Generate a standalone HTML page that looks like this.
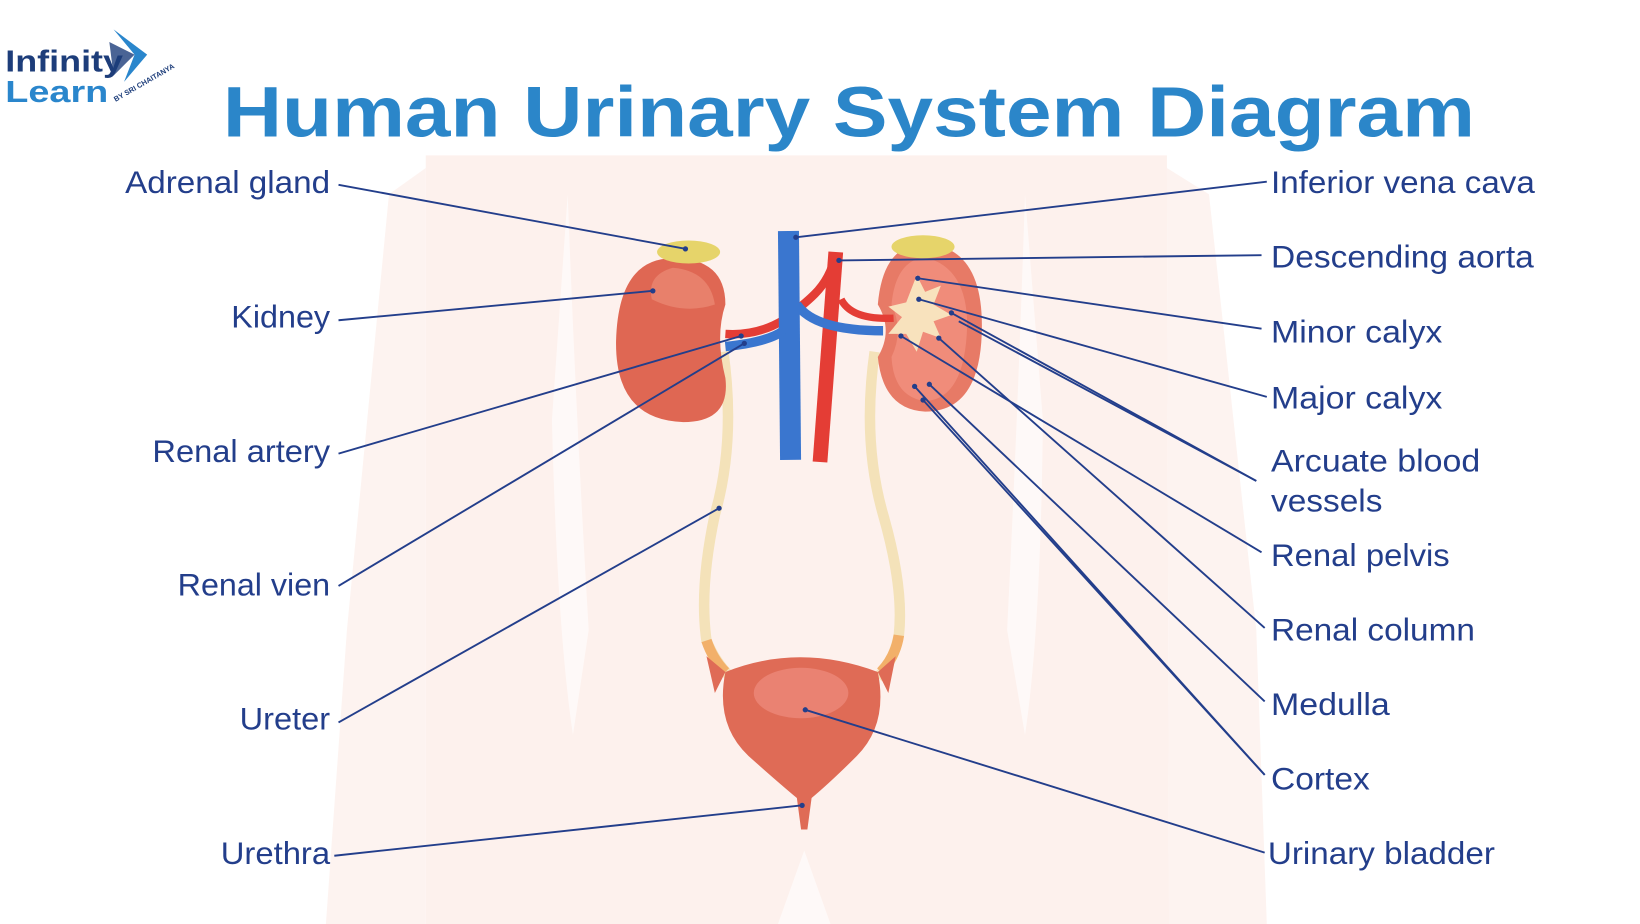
<!DOCTYPE html>
<html><head><meta charset="utf-8"><style>
html,body{margin:0;padding:0;background:#fff;}
svg{display:block;}
text{font-family:"Liberation Sans",sans-serif;}
</style></head><body>
<svg width="1640" height="924" viewBox="0 0 1560 880" preserveAspectRatio="none" xmlns="http://www.w3.org/2000/svg">
<rect width="1560" height="880" fill="#fff"/>
<!-- body silhouette -->
<path d="M405 148 L1110 148 L1112 880 L405 880 Z" fill="#fdf1ed"/>
<path d="M370 185 L405 160 L405 880 L310 880 L330 600 Z" fill="#fdf3f0"/>
<path d="M1110 160 L1150 185 L1195 600 L1205 880 L1112 880 Z" fill="#fdf3f0"/>
<path d="M540 185 Q548 400 560 600 L545 700 Q530 600 525 400 Z" fill="#ffffff" opacity="0.6"/>
<path d="M975 185 Q968 400 958 600 L975 700 Q990 600 992 400 Z" fill="#ffffff" opacity="0.6"/>
<path d="M740 880 L765 810 L790 880 Z" fill="#fff" opacity="0.6"/>

<!-- title -->
<text x="212" y="130" font-size="68" font-weight="bold" fill="#2b86c9" textLength="1191" lengthAdjust="spacingAndGlyphs">Human Urinary System  Diagram</text>
<!-- logo -->
<text x="5" y="68" font-size="29" font-weight="bold" fill="#1d3d7a" textLength="112" lengthAdjust="spacingAndGlyphs">Infinity</text>
<text x="5" y="97" font-size="29" font-weight="bold" fill="#2a86cc" textLength="98" lengthAdjust="spacingAndGlyphs">Learn</text>
<path d="M108 28 L140 52 L118 78 L128 52 Z" fill="#2a86cc"/>
<path d="M104 40 L128 52 L108 72 Z" fill="#1d3d7a" opacity="0.8"/>
<text x="110" y="97" font-size="7" font-weight="bold" fill="#1d3d7a" transform="rotate(-30 110 97)">BY SRI CHAITANYA</text>

<!-- ureters -->
<path d="M688 335 Q700 420 680 490 Q665 560 672 610 Q680 630 695 645" fill="none" stroke="#f4e2b9" stroke-width="10"/>
<path d="M832 335 Q820 420 840 490 Q860 560 855 605 Q850 630 835 645" fill="none" stroke="#f4e2b9" stroke-width="10"/>
<path d="M672 610 Q678 628 690 640" fill="none" stroke="#f2b06a" stroke-width="10"/>
<path d="M855 605 Q852 625 838 640" fill="none" stroke="#f2b06a" stroke-width="10"/>
<!-- bladder -->
<path d="M690 640 Q760 612 835 640 Q845 690 815 720 Q790 745 772 760 L768 790 L762 790 L758 760 Q740 745 712 720 Q680 690 690 640 Z" fill="#df6b56"/>
<ellipse cx="762" cy="660" rx="45" ry="24" fill="#ea8272"/>
<path d="M690 640 L672 625 L680 660 Z M835 640 L852 625 L845 660 Z" fill="#df6b56"/>

<!-- left kidney -->
<path d="M640 246 Q690 246 690 290 Q680 320 690 360 Q695 402 650 402 Q585 400 586 325 Q588 246 640 246 Z" fill="#df6753"/>
<path d="M640 255 Q675 258 680 290 Q650 300 620 285 Q615 262 640 255 Z" fill="#e8806b"/>
<ellipse cx="655" cy="240" rx="30" ry="11" fill="#e6d46a"/>
<!-- right kidney -->
<path d="M880 232 Q934 235 934 310 Q934 392 880 392 Q840 390 835 340 Q850 315 835 290 Q840 232 880 232 Z" fill="#e77a66"/>
<path d="M880 245 Q920 255 920 310 Q918 380 880 382 Q850 378 848 340 Q860 315 848 290 Q852 248 880 245 Z" fill="#f08c7a"/>
<path d="M872 262 L880 278 L895 272 L888 290 L905 300 L888 306 L895 322 L878 316 L872 335 L862 318 L845 318 L858 302 L845 292 L862 288 Z" fill="#f8e2bd"/>
<ellipse cx="878" cy="235" rx="30" ry="11" fill="#e6d46a"/>

<!-- vessels -->
<path d="M690 318 Q720 320 745 305 Q765 290 775 280 Q790 265 795 242" fill="none" stroke="#e43d35" stroke-width="8"/>
<path d="M795 240 L780 440" fill="none" stroke="#e43d35" stroke-width="14"/>
<path d="M800 285 Q810 305 850 303" fill="none" stroke="#e43d35" stroke-width="7"/>
<path d="M750 220 L752 438" fill="none" stroke="#3a76cf" stroke-width="20"/>
<path d="M690 330 Q730 326 745 315" fill="none" stroke="#3a76cf" stroke-width="9"/>
<path d="M758 290 Q775 315 840 315" fill="none" stroke="#3a76cf" stroke-width="9"/>

<!-- leader lines -->
<g stroke="#233e8b" stroke-width="1.8" fill="none">
<line x1="322" y1="176" x2="652" y2="237"/>
<line x1="322" y1="305" x2="621" y2="277"/>
<line x1="322" y1="432" x2="705" y2="320"/>
<line x1="322" y1="558" x2="708" y2="327"/>
<line x1="322" y1="688" x2="684" y2="484"/>
<line x1="318" y1="815" x2="763" y2="767"/>
<line x1="1205" y1="173" x2="757" y2="226"/>
<line x1="1200" y1="243" x2="798" y2="248"/>
<line x1="1200" y1="313" x2="873" y2="265"/>
<line x1="1205" y1="378" x2="874" y2="285"/>
<line x1="1195" y1="458" x2="905" y2="298"/>
<line x1="1195" y1="458" x2="912" y2="306"/>
<line x1="1200" y1="526" x2="857" y2="320"/>
<line x1="1203" y1="598" x2="893" y2="322"/>
<line x1="1203" y1="668" x2="884" y2="366"/>
<line x1="1203" y1="738" x2="870" y2="368"/>
<line x1="1203" y1="738" x2="878" y2="381"/>
<line x1="1203" y1="812" x2="766" y2="676"/>
</g>
<g fill="#233e8b">
<circle cx="652" cy="237" r="2.5"/><circle cx="621" cy="277" r="2.5"/><circle cx="705" cy="320" r="2.5"/><circle cx="708" cy="327" r="2.5"/><circle cx="684" cy="484" r="2.5"/><circle cx="763" cy="767" r="2.5"/><circle cx="757" cy="226" r="2.5"/><circle cx="798" cy="248" r="2.5"/><circle cx="873" cy="265" r="2.5"/><circle cx="874" cy="285" r="2.5"/><circle cx="905" cy="298" r="2.5"/><circle cx="857" cy="320" r="2.5"/><circle cx="893" cy="322" r="2.5"/><circle cx="884" cy="366" r="2.5"/><circle cx="870" cy="368" r="2.5"/><circle cx="878" cy="381" r="2.5"/><circle cx="766" cy="676" r="2.5"/>
</g>

<!-- labels -->
<g font-size="30" fill="#233e8b">
<text x="314" y="184" text-anchor="end" textLength="195" lengthAdjust="spacingAndGlyphs">Adrenal gland</text>
<text x="314" y="312" text-anchor="end" textLength="94" lengthAdjust="spacingAndGlyphs">Kidney</text>
<text x="314" y="440" text-anchor="end" textLength="169" lengthAdjust="spacingAndGlyphs">Renal artery</text>
<text x="314" y="567" text-anchor="end" textLength="145" lengthAdjust="spacingAndGlyphs">Renal vien</text>
<text x="314" y="695" text-anchor="end" textLength="86" lengthAdjust="spacingAndGlyphs">Ureter</text>
<text x="314" y="823" text-anchor="end" textLength="104" lengthAdjust="spacingAndGlyphs">Urethra</text>
<text x="1209" y="184" textLength="251" lengthAdjust="spacingAndGlyphs">Inferior vena cava</text>
<text x="1209" y="255" textLength="250" lengthAdjust="spacingAndGlyphs">Descending aorta</text>
<text x="1209" y="326" textLength="163" lengthAdjust="spacingAndGlyphs">Minor calyx</text>
<text x="1209" y="389" textLength="163" lengthAdjust="spacingAndGlyphs">Major calyx</text>
<text x="1209" y="449" textLength="199" lengthAdjust="spacingAndGlyphs">Arcuate blood</text>
<text x="1209" y="487" textLength="106" lengthAdjust="spacingAndGlyphs">vessels</text>
<text x="1209" y="539" textLength="170" lengthAdjust="spacingAndGlyphs">Renal pelvis</text>
<text x="1209" y="610" textLength="194" lengthAdjust="spacingAndGlyphs">Renal column</text>
<text x="1209" y="681" textLength="113" lengthAdjust="spacingAndGlyphs">Medulla</text>
<text x="1209" y="752" textLength="94" lengthAdjust="spacingAndGlyphs">Cortex</text>
<text x="1206" y="823" textLength="216" lengthAdjust="spacingAndGlyphs">Urinary bladder</text>
</g>
</svg>
</body></html>
